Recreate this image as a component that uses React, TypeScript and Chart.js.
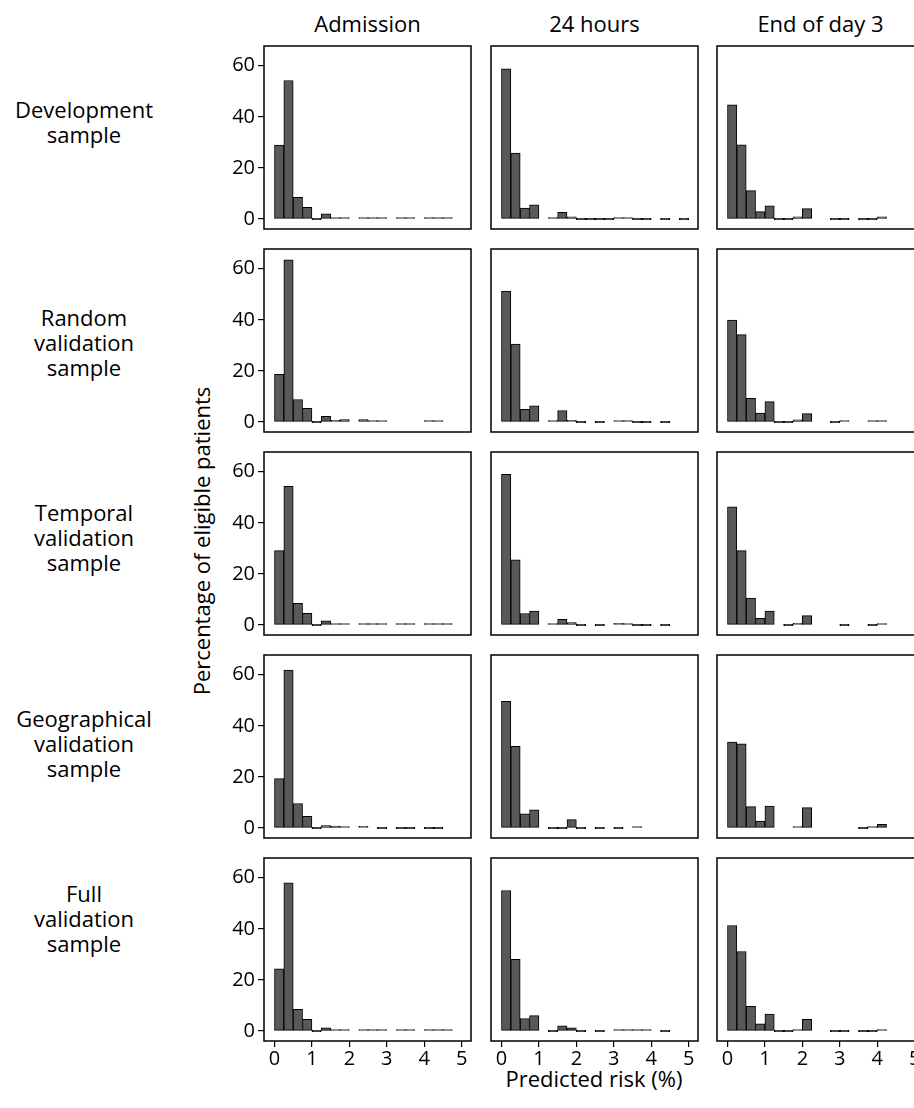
import React, { useEffect, useRef } from 'react';
import { Chart, registerables } from 'chart.js';

Chart.register(...registerables);

// ---------------- data ----------------
const binCenters = [
  0.125, 0.375, 0.625, 0.875, 1.125, 1.375, 1.625, 1.875, 2.125, 2.375,
  2.625, 2.875, 3.125, 3.375, 3.625, 3.875, 4.125, 4.375, 4.625, 4.875,
];

const xTickValues = [0, 1, 2, 3, 4, 5];
const yTickValues = [0, 20, 40, 60];

const columnTitles = ['Admission', '24 hours', 'End of day 3'];
const rowLabels = [
  ['Development', 'sample'],
  ['Random', 'validation', 'sample'],
  ['Temporal', 'validation', 'sample'],
  ['Geographical', 'validation', 'sample'],
  ['Full', 'validation', 'sample'],
];
const yAxisTitle = 'Percentage of eligible patients';
const xAxisTitle = 'Predicted risk (%)';

// Development sample
const devAdmission = [28.9, 54.2, 8.5, 4.6, 0, 2.0, 0.6, 0.6, null, 0.5, 0.1, 0.1, null, 0.1, 0.1, null, 0.1, 0.1, 0.1, null];
const devHours24 = [58.8, 25.8, 4.3, 5.6, null, 0.6, 2.6, 0.9, 0, 0, 0, 0, 0.5, 0.5, 0, 0, null, 0, null, 0];
const devDay3 = [44.7, 29.0, 11.1, 2.9, 5.2, 0, 0, 0.9, 4.1, null, null, 0, 0, null, 0, 0, 0.9, null, null, null];

// Random validation sample
const randAdmission = [18.7, 63.5, 8.8, 5.4, 0, 2.2, 0.7, 1.0, null, 1.0, 0.4, 0.6, null, null, null, null, 0.2, 0.2, null, null];
const randHours24 = [51.2, 30.5, 5.0, 6.3, null, 0.3, 4.5, 0.7, 0, null, 0, null, 0.6, 0.6, 0, 0, null, 0, null, null];
const randDay3 = [39.9, 34.2, 9.3, 3.5, 8.0, 0, 0, 0.9, 3.3, null, null, 0, 0.3, null, null, 0.3, 0.3, null, null, null];

// Temporal validation sample
const tempAdmission = [29.1, 54.3, 8.5, 4.6, 0, 1.6, 0.5, 0.5, null, 0.4, 0.1, 0.1, null, 0.1, 0.1, null, 0.1, 0.1, 0.1, null];
const tempHours24 = [59.0, 25.5, 4.5, 5.5, null, 0.4, 2.2, 1.0, 0, null, 0, null, 0.7, 0.5, 0, 0, null, 0, null, null];
const tempDay3 = [46.2, 29.1, 10.5, 2.6, 5.5, null, 0, 0.7, 3.7, null, null, null, 0, null, null, 0, 0.4, null, null, null];

// Geographical validation sample
const geoAdmission = [19.3, 61.8, 9.6, 4.6, 0, 1.0, 0.8, 0.5, null, 0.7, null, 0, null, 0, 0, null, 0, 0, null, null];
const geoHours24 = [49.6, 32.0, 5.6, 7.1, null, 0, 0, 3.3, 0, null, 0, null, 0, null, 0.3, null, null, null, null, null];
const geoDay3 = [33.6, 32.9, 8.4, 2.7, 8.6, null, null, 0.3, 8.0, null, null, null, null, null, 0, 0.4, 1.4, null, null, null];

// Full validation sample
const fullAdmission = [24.3, 58.0, 8.5, 4.6, 0, 1.3, 0.5, 0.5, null, 0.5, 0.1, 0.1, null, 0.1, 0.1, null, 0.1, 0.1, 0.1, null];
const fullHours24 = [55.0, 28.1, 4.9, 6.0, null, 0, 2.0, 1.3, 0, null, 0, null, 0.3, 0.1, 0.1, 0.1, null, 0, null, null];
const fullDay3 = [41.3, 31.1, 9.7, 2.8, 6.6, 0, 0, 0.5, 4.6, null, null, 0, 0, null, 0, 0, 0.4, null, null, null];

const panelRows = [
  [devAdmission, devHours24, devDay3],
  [randAdmission, randHours24, randDay3],
  [tempAdmission, tempHours24, tempDay3],
  [geoAdmission, geoHours24, geoDay3],
  [fullAdmission, fullHours24, fullDay3],
];

// ---------------- layout / style ----------------
const FONT = "'Open Sans', 'Noto Sans', sans-serif";
const BAR_FILL = '#595959';
const BOX_LEFT = [264, 491, 717];
const BOX_W = 207;
const BOX_TOP0 = 46;
const ROW_PITCH = 203;
const BOX_H = 183;
const X_MIN = -0.28;
const X_MAX = 5.25;
const Y_MIN = -3.9;
const Y_MAX = 67.7;
const ROW_LABEL_TOPS = [96.5, 304.5, 499.5, 705.5, 880.5];

const framePlugin = {
  id: 'panelFrame',
  afterDraw(chart: any) {
    const { ctx, chartArea } = chart;
    ctx.save();
    ctx.strokeStyle = '#000';
    ctx.lineWidth = 1.5;
    ctx.strokeRect(chartArea.left, chartArea.top, chartArea.right - chartArea.left, chartArea.bottom - chartArea.top);
    ctx.restore();
  },
};

function Panel({ values, row, col }: { values: (number | null)[]; row: number; col: number }) {
  const ref = useRef<HTMLCanvasElement>(null);
  const isLeft = col === 0;
  const isBottom = row === panelRows.length - 1;
  const yw = isLeft ? 60 : 2;
  const xh = isBottom ? 44 : 2;
  const padTop = 2;
  const padRight = 2;
  const width = yw + BOX_W + padRight;
  const height = padTop + BOX_H + xh;
  const left = BOX_LEFT[col] - yw;
  const top = BOX_TOP0 + row * ROW_PITCH - padTop;

  useEffect(() => {
    if (!ref.current) return;
    const chart = new Chart(ref.current, {
      type: 'bar',
      data: {
        datasets: [
          {
            data: binCenters.map((x, i) => ({ x, y: values[i] })) as any,
            backgroundColor: BAR_FILL,
            borderColor: '#000',
            borderWidth: 1,
            borderSkipped: false,
            minBarLength: 1.5,
            barPercentage: 1,
            categoryPercentage: 1,
          },
        ],
      },
      options: {
        responsive: false,
        animation: false,
        events: [],
        layout: { padding: { top: padTop, right: padRight, left: 0, bottom: 0 } },
        plugins: { legend: { display: false }, tooltip: { enabled: false } },
        scales: {
          x: {
            type: 'linear',
            min: X_MIN,
            max: X_MAX,
            offset: false,
            grid: {
              display: true,
              drawOnChartArea: false,
              drawTicks: isBottom,
              tickLength: 6,
              color: '#000',
              lineWidth: 1.2,
              offset: false,
            },
            border: { display: false },
            ticks: {
              display: isBottom,
              color: '#000',
              font: { family: FONT, size: 20 },
              padding: 0,
              maxRotation: 0,
              autoSkip: false,
              includeBounds: false,
            },
            afterBuildTicks: (axis: any) => {
              axis.ticks = xTickValues.map((v) => ({ value: v }));
            },
            afterFit: (axis: any) => {
              axis.height = xh;
              axis.paddingLeft = 0;
              axis.paddingRight = 0;
            },
          },
          y: {
            type: 'linear',
            min: Y_MIN,
            max: Y_MAX,
            grid: {
              display: true,
              drawOnChartArea: false,
              drawTicks: isLeft,
              tickLength: 6,
              color: '#000',
              lineWidth: 1.2,
            },
            border: { display: false },
            ticks: {
              display: isLeft,
              color: '#000',
              font: { family: FONT, size: 20 },
              padding: 3,
              includeBounds: false,
            },
            afterBuildTicks: (axis: any) => {
              axis.ticks = yTickValues.map((v) => ({ value: v }));
            },
            afterFit: (axis: any) => {
              axis.width = yw;
              axis.paddingTop = 0;
              axis.paddingBottom = 0;
            },
          },
        },
      } as any,
      plugins: [framePlugin],
    });
    return () => chart.destroy();
  }, []);

  return (
    <canvas
      ref={ref}
      width={width}
      height={height}
      style={{ position: 'absolute', left, top, width, height }}
    />
  );
}

const textBase: React.CSSProperties = {
  position: 'absolute',
  fontFamily: FONT,
  fontSize: 22,
  lineHeight: '25px',
  color: '#000',
  whiteSpace: 'nowrap',
};

export default function App() {
  return (
    <div
      style={{
        position: 'fixed',
        left: 0,
        top: 0,
        width: 914,
        height: 1108,
        overflow: 'hidden',
        background: '#fff',
      }}
    >
      {columnTitles.map((t, c) => (
        <div
          key={t}
          style={{ ...textBase, left: BOX_LEFT[c] + BOX_W / 2, top: 11, transform: 'translateX(-50%)' }}
        >
          {t}
        </div>
      ))}
      {rowLabels.map((lines, r) => (
        <div
          key={r}
          style={{ ...textBase, left: 84, top: ROW_LABEL_TOPS[r], transform: 'translateX(-50%)', textAlign: 'center' }}
        >
          {lines.map((l, i) => (
            <div key={i}>{l}</div>
          ))}
        </div>
      ))}
      <div
        style={{
          ...textBase,
          left: 201,
          top: 541,
          transform: 'translate(-50%, -50%) rotate(-90deg)',
        }}
      >
        {yAxisTitle}
      </div>
      <div style={{ ...textBase, left: 594, top: 1066, transform: 'translateX(-50%)' }}>{xAxisTitle}</div>
      {panelRows.map((rowVals, r) =>
        rowVals.map((vals, c) => <Panel key={`${r}-${c}`} values={vals} row={r} col={c} />)
      )}
    </div>
  );
}
